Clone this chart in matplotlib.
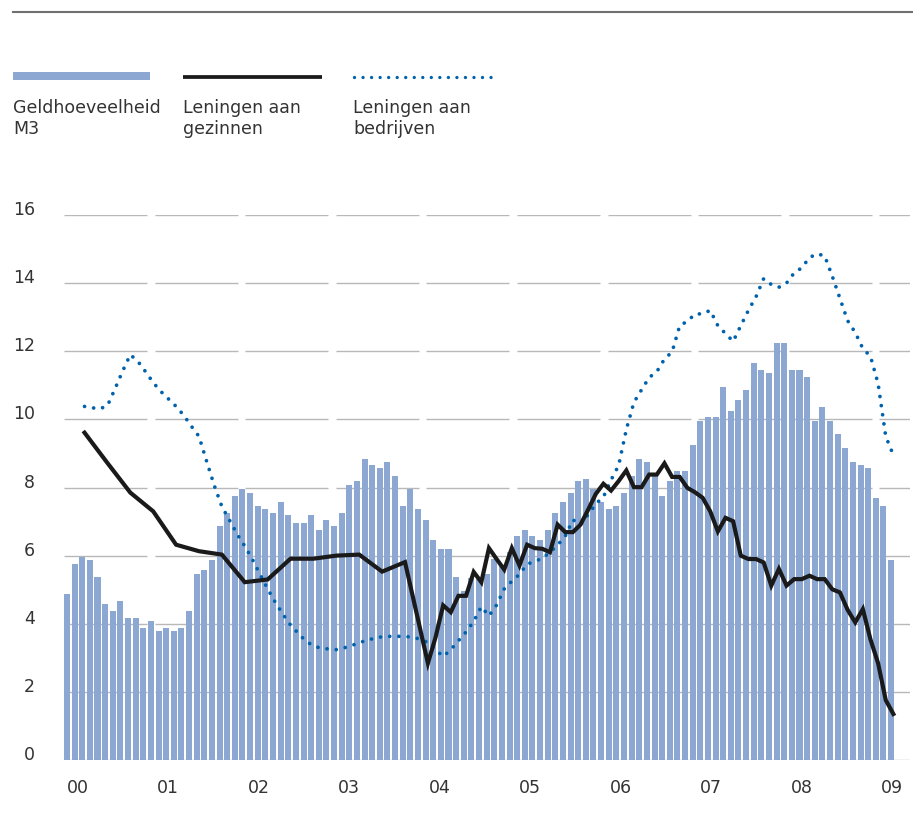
import numpy as np
import matplotlib
matplotlib.use('Agg')
import matplotlib.pyplot as plt
from matplotlib.lines import Line2D
from matplotlib.patches import Rectangle
from matplotlib.transforms import ScaledTranslation

# ===== DATA =====
# Geldhoeveelheid M3, monthly Jan 2000 - Jan 2009 (index 0 = Jan 2000)
m3 = [4.88, 5.76, 5.97, 5.88, 5.38, 4.59, 4.38, 4.68, 4.18, 4.18, 3.88, 4.09,
      3.79, 3.88, 3.79, 3.88, 4.38, 5.47, 5.59, 5.88, 6.88, 7.26, 7.76, 7.97,
      7.85, 7.47, 7.38, 7.26, 7.56, 7.18, 6.97, 6.97, 7.18, 6.76, 7.06, 6.88,
      7.26, 8.06, 8.18, 8.85, 8.65, 8.56, 8.76, 8.35, 7.47, 7.97, 7.38, 7.06,
      6.47, 6.18, 6.18, 5.38, 4.97, 5.35, 5.30, 5.47, 5.90, 5.70, 6.10, 6.59,
      6.76, 6.59, 6.47, 6.76, 7.26, 7.56, 7.85, 8.18, 8.26, 7.97, 7.56, 7.38,
      7.47, 7.85, 8.35, 8.85, 8.76, 8.35, 7.76, 8.18, 8.47, 8.47, 9.26, 9.94,
      10.06, 10.06, 10.94, 10.24, 10.56, 10.85, 11.65, 11.44, 11.35, 12.24, 12.24, 11.44,
      11.44, 11.24, 9.94, 10.35, 9.94, 9.56, 9.15, 8.76, 8.65, 8.56, 7.68, 7.47,
      5.88]

# Leningen aan gezinnen (quarterly at first, monthly from end 2003)
hh_month = [2, 5, 8, 11, 14, 17, 20, 23, 26, 29, 32, 35, 38, 41, 44,
            47, 48, 49, 50, 51, 52, 53, 54, 55, 56, 57, 58, 59,
            60, 61, 62, 63, 64, 65, 66, 67, 68, 69, 70, 71,
            72, 73, 74, 75, 76, 77, 78, 79, 80, 81, 82, 83,
            84, 85, 86, 87, 88, 89, 90, 91, 92, 93, 94, 95,
            96, 97, 98, 99, 100, 101, 102, 103, 104, 105, 106, 107,
            108]
hh_vals = [9.61, 8.72, 7.85, 7.30, 6.32, 6.13, 6.03, 5.22, 5.30, 5.91, 5.91, 6.00, 6.03, 5.53, 5.81,
           2.84, 3.60, 4.54, 4.34, 4.82, 4.82, 5.52, 5.22, 6.22, 5.90, 5.59, 6.22, 5.71,
           6.32, 6.22, 6.20, 6.10, 6.91, 6.69, 6.69, 6.91, 7.35, 7.81, 8.11, 7.91,
           8.19, 8.50, 8.01, 8.01, 8.38, 8.38, 8.71, 8.31, 8.31, 7.99, 7.86, 7.70,
           7.30, 6.71, 7.11, 7.01, 6.00, 5.90, 5.90, 5.80, 5.12, 5.61, 5.12, 5.31,
           5.31, 5.41, 5.31, 5.31, 5.01, 4.92, 4.41, 4.04, 4.43, 3.54, 2.84, 1.76,
           1.35]

# Leningen aan bedrijven, monthly from Mar 2000 (index 2) to Jan 2009
biz_start = 2
biz_vals = [10.38, 10.34, 10.31, 10.40, 10.90, 11.42, 11.90, 11.70, 11.40, 11.08,
            10.82, 10.60, 10.38, 10.12, 9.80, 9.50, 8.77, 8.06, 7.44, 7.04,
            6.63, 6.28, 5.89, 5.45, 5.02, 4.63, 4.28, 3.96, 3.72, 3.49,
            3.35, 3.28, 3.26, 3.24, 3.29, 3.36, 3.44, 3.52, 3.57, 3.62,
            3.63, 3.63, 3.63, 3.60, 3.55, 3.45, 3.24, 3.04, 3.24, 3.50,
            3.76, 4.07, 4.50, 4.23, 4.55, 5.02, 5.25, 5.45, 5.75, 5.83,
            5.92, 6.10, 6.31, 6.57, 7.05, 6.92, 7.20, 7.52, 7.72, 8.22,
            8.65, 9.70, 10.50, 10.87, 11.23, 11.40, 11.77, 11.98, 12.75, 12.88,
            13.09, 13.10, 13.20, 12.75, 12.52, 12.29, 12.75, 13.20, 13.60, 14.13,
            13.96, 13.88, 14.00, 14.30, 14.45, 14.75, 14.86, 14.80, 14.20, 13.55,
            12.90, 12.55, 12.08, 11.85, 11.05, 9.50, 8.95]

year_labels = ['00', '01', '02', '03', '04', '05', '06', '07', '08', '09']
y_ticks = [0, 2, 4, 6, 8, 10, 12, 14, 16]

legend_labels = ['Geldhoeveelheid\nM3', 'Leningen aan\ngezinnen', 'Leningen aan\nbedrijven']
# ================

BAR_COLOR = '#8ca8d2'
LINE_COLOR = '#1a1a1a'
DOT_COLOR = '#0062ad'
GRID_COLOR = '#b8b8b8'
TEXT_COLOR = '#333333'
FS = 12.5

W, H = 913, 821


def fx(x):
    return x / W


def fy(y):
    return 1 - y / H


fig = plt.figure(figsize=(W / 100, H / 100), dpi=100)
ax = fig.add_axes([fx(64), fy(760), (910 - 64) / W, (760 - 215) / H])

months = np.arange(len(m3))
LINE_SHIFT = 0.3

# Gridlines broken into one segment per year
xmin, xmax = -0.39, 110.48
seg_step, seg_len = 11.874, 10.88
for yv in y_ticks:
    for i in range(len(year_labels)):
        s = xmin + seg_step * i
        e = min(s + seg_len, xmax) if i < len(year_labels) - 1 else xmax
        ax.plot([s, e], [yv, yv], color=GRID_COLOR, lw=1.0, zorder=0,
                solid_capstyle='butt')

ax.bar(months, m3, width=0.79, color=BAR_COLOR, zorder=2)

biz_x = np.arange(biz_start, biz_start + len(biz_vals)) + LINE_SHIFT
ax.plot(biz_x, biz_vals, color=DOT_COLOR, lw=2.7, linestyle=(0, (0.01, 2.45)),
        dash_capstyle='round', zorder=3)

ax.plot(np.array(hh_month) + LINE_SHIFT, hh_vals, color=LINE_COLOR, lw=3.0,
        solid_joinstyle='miter', zorder=4)

ax.set_xlim(xmin, xmax)
ax.set_ylim(0, 16)
for sp in ax.spines.values():
    sp.set_visible(False)

tick_pos = 1.376 + 11.861 * np.arange(len(year_labels))
ax.set_xticks(tick_pos)
ax.set_xticklabels(year_labels)
ax.set_yticks(y_ticks)
ax.set_yticklabels([str(v) for v in y_ticks])
ax.tick_params(axis='x', length=0, pad=13.5, labelsize=FS, labelcolor=TEXT_COLOR)
ax.tick_params(axis='y', length=0, pad=20.9, labelsize=FS, labelcolor=TEXT_COLOR)
offset = ScaledTranslation(0, 0.07, fig.dpi_scale_trans)
for lbl in ax.get_yticklabels():
    lbl.set_transform(lbl.get_transform() + offset)

# Top rule
fig.add_artist(Line2D([fx(13), 1], [fy(12), fy(12)], color='#707070', lw=1.5))

# Legend
fig.add_artist(Rectangle((fx(13), fy(80)), (150 - 13) / W, 8 / H,
                         facecolor=BAR_COLOR, edgecolor='none'))
fig.add_artist(Line2D([fx(183), fx(322)], [fy(77), fy(77)], color=LINE_COLOR,
                      lw=2.7, solid_capstyle='butt'))
fig.add_artist(Line2D([fx(354), fx(496)], [fy(77), fy(77)], color=DOT_COLOR,
                      lw=2.4, linestyle=(0, (0.01, 2.55)), dash_capstyle='round'))

for x0, lab in zip([13, 183, 353], legend_labels):
    fig.text(fx(x0), fy(134), lab, ha='left', va='baseline', fontsize=FS,
             color=TEXT_COLOR, linespacing=1.2)

fig.savefig('out.png', dpi=100)
plt.close('all')
